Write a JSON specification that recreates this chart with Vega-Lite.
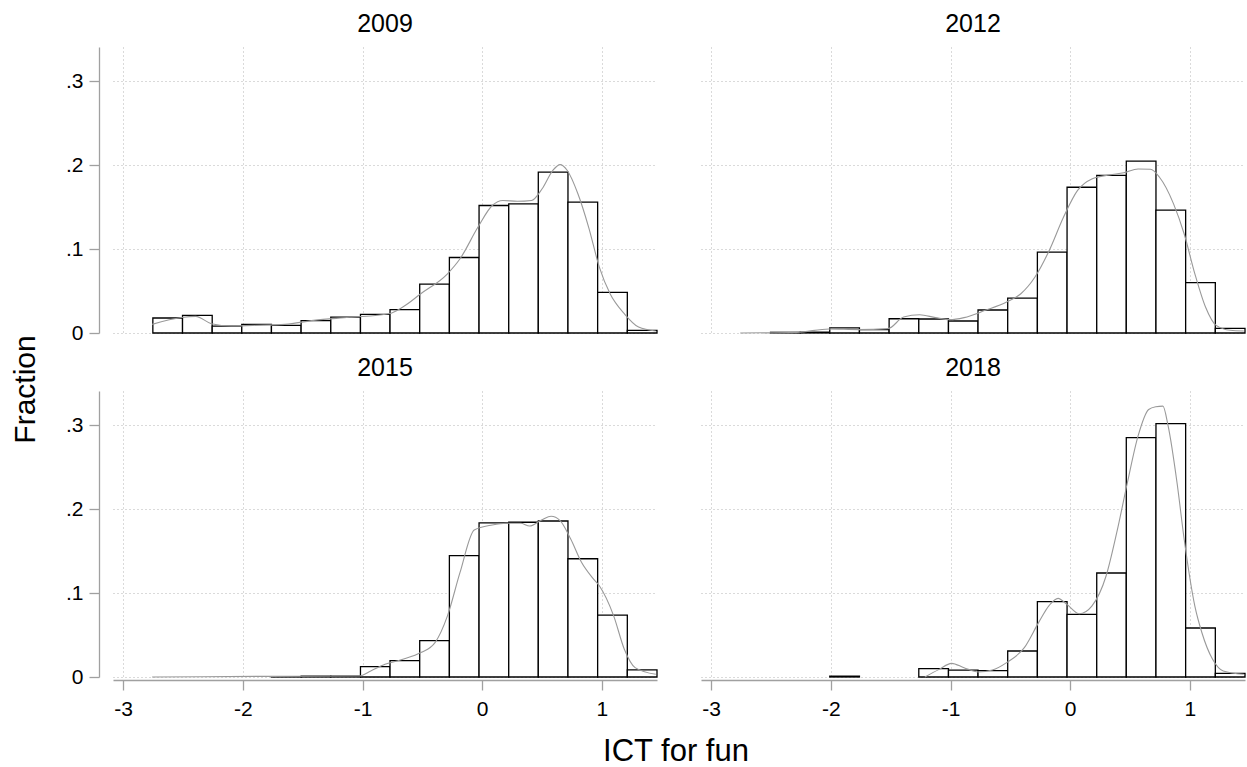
{
  "$schema": "https://vega.github.io/schema/vega-lite/v6.json",
  "padding": {"left": 11, "top": 12, "right": 0, "bottom": 0},
  "title": {"text": "Fraction", "orient": "left", "anchor": "middle", "fontSize": 30, "fontWeight": "normal", "font": "Liberation Sans", "color": "#000", "offset": 24},
  "data": {"values": [
    {"year": "2009", "t": "h", "x0": -2.752, "x1": -2.504, "f": 0.0179},
    {"year": "2009", "t": "h", "x0": -2.504, "x1": -2.256, "f": 0.021},
    {"year": "2009", "t": "h", "x0": -2.256, "x1": -2.009, "f": 0.0083},
    {"year": "2009", "t": "h", "x0": -2.009, "x1": -1.761, "f": 0.0103},
    {"year": "2009", "t": "h", "x0": -1.761, "x1": -1.513, "f": 0.0091},
    {"year": "2009", "t": "h", "x0": -1.513, "x1": -1.265, "f": 0.0147},
    {"year": "2009", "t": "h", "x0": -1.265, "x1": -1.017, "f": 0.019},
    {"year": "2009", "t": "h", "x0": -1.017, "x1": -0.770, "f": 0.0222},
    {"year": "2009", "t": "h", "x0": -0.770, "x1": -0.522, "f": 0.0278},
    {"year": "2009", "t": "h", "x0": -0.522, "x1": -0.274, "f": 0.0583},
    {"year": "2009", "t": "h", "x0": -0.274, "x1": -0.026, "f": 0.090},
    {"year": "2009", "t": "h", "x0": -0.026, "x1": 0.222, "f": 0.152},
    {"year": "2009", "t": "h", "x0": 0.222, "x1": 0.469, "f": 0.154},
    {"year": "2009", "t": "h", "x0": 0.469, "x1": 0.717, "f": 0.1917},
    {"year": "2009", "t": "h", "x0": 0.717, "x1": 0.965, "f": 0.156},
    {"year": "2009", "t": "h", "x0": 0.965, "x1": 1.213, "f": 0.0484},
    {"year": "2009", "t": "h", "x0": 1.213, "x1": 1.461, "f": 0.0032},

    {"year": "2012", "t": "h", "x0": -2.504, "x1": -2.256, "f": 0.0008},
    {"year": "2012", "t": "h", "x0": -2.256, "x1": -2.009, "f": 0.001},
    {"year": "2012", "t": "h", "x0": -2.009, "x1": -1.761, "f": 0.006},
    {"year": "2012", "t": "h", "x0": -1.761, "x1": -1.513, "f": 0.004},
    {"year": "2012", "t": "h", "x0": -1.513, "x1": -1.265, "f": 0.017},
    {"year": "2012", "t": "h", "x0": -1.265, "x1": -1.017, "f": 0.0167},
    {"year": "2012", "t": "h", "x0": -1.017, "x1": -0.770, "f": 0.0143},
    {"year": "2012", "t": "h", "x0": -0.770, "x1": -0.522, "f": 0.0274},
    {"year": "2012", "t": "h", "x0": -0.522, "x1": -0.274, "f": 0.0417},
    {"year": "2012", "t": "h", "x0": -0.274, "x1": -0.026, "f": 0.0964},
    {"year": "2012", "t": "h", "x0": -0.026, "x1": 0.222, "f": 0.1738},
    {"year": "2012", "t": "h", "x0": 0.222, "x1": 0.469, "f": 0.188},
    {"year": "2012", "t": "h", "x0": 0.469, "x1": 0.717, "f": 0.205},
    {"year": "2012", "t": "h", "x0": 0.717, "x1": 0.965, "f": 0.1464},
    {"year": "2012", "t": "h", "x0": 0.965, "x1": 1.213, "f": 0.060},
    {"year": "2012", "t": "h", "x0": 1.213, "x1": 1.461, "f": 0.0056},

    {"year": "2015", "t": "h", "x0": -1.761, "x1": -1.513, "f": 0.0004},
    {"year": "2015", "t": "h", "x0": -1.513, "x1": -1.265, "f": 0.001},
    {"year": "2015", "t": "h", "x0": -1.265, "x1": -1.017, "f": 0.001},
    {"year": "2015", "t": "h", "x0": -1.017, "x1": -0.770, "f": 0.0124},
    {"year": "2015", "t": "h", "x0": -0.770, "x1": -0.522, "f": 0.0195},
    {"year": "2015", "t": "h", "x0": -0.522, "x1": -0.274, "f": 0.0434},
    {"year": "2015", "t": "h", "x0": -0.274, "x1": -0.026, "f": 0.1446},
    {"year": "2015", "t": "h", "x0": -0.026, "x1": 0.222, "f": 0.1837},
    {"year": "2015", "t": "h", "x0": 0.222, "x1": 0.469, "f": 0.1845},
    {"year": "2015", "t": "h", "x0": 0.469, "x1": 0.717, "f": 0.186},
    {"year": "2015", "t": "h", "x0": 0.717, "x1": 0.965, "f": 0.141},
    {"year": "2015", "t": "h", "x0": 0.965, "x1": 1.213, "f": 0.0737},
    {"year": "2015", "t": "h", "x0": 1.213, "x1": 1.461, "f": 0.0084},

    {"year": "2018", "t": "h", "x0": -2.009, "x1": -1.761, "f": 0.001},
    {"year": "2018", "t": "h", "x0": -1.265, "x1": -1.017, "f": 0.0099},
    {"year": "2018", "t": "h", "x0": -1.017, "x1": -0.770, "f": 0.0083},
    {"year": "2018", "t": "h", "x0": -0.770, "x1": -0.522, "f": 0.0075},
    {"year": "2018", "t": "h", "x0": -0.522, "x1": -0.274, "f": 0.031},
    {"year": "2018", "t": "h", "x0": -0.274, "x1": -0.026, "f": 0.0898},
    {"year": "2018", "t": "h", "x0": -0.026, "x1": 0.222, "f": 0.0747},
    {"year": "2018", "t": "h", "x0": 0.222, "x1": 0.469, "f": 0.124},
    {"year": "2018", "t": "h", "x0": 0.469, "x1": 0.717, "f": 0.2853},
    {"year": "2018", "t": "h", "x0": 0.717, "x1": 0.965, "f": 0.302},
    {"year": "2018", "t": "h", "x0": 0.965, "x1": 1.213, "f": 0.0584},
    {"year": "2018", "t": "h", "x0": 1.213, "x1": 1.461, "f": 0.0044},

    {"year": "2009", "t": "d", "x": -2.758, "d": 0.0103},
    {"year": "2009", "t": "d", "x": -2.513, "d": 0.0185},
    {"year": "2009", "t": "d", "x": -2.394, "d": 0.0198},
    {"year": "2009", "t": "d", "x": -2.263, "d": 0.0111},
    {"year": "2009", "t": "d", "x": -2.096, "d": 0.0083},
    {"year": "2009", "t": "d", "x": -1.916, "d": 0.0091},
    {"year": "2009", "t": "d", "x": -1.648, "d": 0.0103},
    {"year": "2009", "t": "d", "x": -1.409, "d": 0.0151},
    {"year": "2009", "t": "d", "x": -1.110, "d": 0.0187},
    {"year": "2009", "t": "d", "x": -0.779, "d": 0.023},
    {"year": "2009", "t": "d", "x": -0.663, "d": 0.031},
    {"year": "2009", "t": "d", "x": -0.513, "d": 0.0468},
    {"year": "2009", "t": "d", "x": -0.290, "d": 0.0706},
    {"year": "2009", "t": "d", "x": -0.185, "d": 0.0885},
    {"year": "2009", "t": "d", "x": -0.036, "d": 0.126},
    {"year": "2009", "t": "d", "x": 0.084, "d": 0.152},
    {"year": "2009", "t": "d", "x": 0.173, "d": 0.158},
    {"year": "2009", "t": "d", "x": 0.293, "d": 0.157},
    {"year": "2009", "t": "d", "x": 0.412, "d": 0.158},
    {"year": "2009", "t": "d", "x": 0.501, "d": 0.172},
    {"year": "2009", "t": "d", "x": 0.591, "d": 0.194},
    {"year": "2009", "t": "d", "x": 0.651, "d": 0.2008},
    {"year": "2009", "t": "d", "x": 0.710, "d": 0.194},
    {"year": "2009", "t": "d", "x": 0.800, "d": 0.166},
    {"year": "2009", "t": "d", "x": 0.890, "d": 0.126},
    {"year": "2009", "t": "d", "x": 0.979, "d": 0.0786},
    {"year": "2009", "t": "d", "x": 1.069, "d": 0.0468},
    {"year": "2009", "t": "d", "x": 1.188, "d": 0.023},
    {"year": "2009", "t": "d", "x": 1.307, "d": 0.0071},
    {"year": "2009", "t": "d", "x": 1.451, "d": 0.0024},

    {"year": "2012", "t": "d", "x": -2.757, "d": 0.0},
    {"year": "2012", "t": "d", "x": -2.282, "d": 0.0008},
    {"year": "2012", "t": "d", "x": -2.015, "d": 0.0048},
    {"year": "2012", "t": "d", "x": -1.768, "d": 0.004},
    {"year": "2012", "t": "d", "x": -1.522, "d": 0.0052},
    {"year": "2012", "t": "d", "x": -1.392, "d": 0.019},
    {"year": "2012", "t": "d", "x": -1.258, "d": 0.0218},
    {"year": "2012", "t": "d", "x": -1.125, "d": 0.0183},
    {"year": "2012", "t": "d", "x": -1.006, "d": 0.0159},
    {"year": "2012", "t": "d", "x": -0.887, "d": 0.0183},
    {"year": "2012", "t": "d", "x": -0.709, "d": 0.027},
    {"year": "2012", "t": "d", "x": -0.531, "d": 0.0369},
    {"year": "2012", "t": "d", "x": -0.412, "d": 0.0468},
    {"year": "2012", "t": "d", "x": -0.294, "d": 0.0667},
    {"year": "2012", "t": "d", "x": -0.175, "d": 0.0984},
    {"year": "2012", "t": "d", "x": -0.056, "d": 0.138},
    {"year": "2012", "t": "d", "x": 0.062, "d": 0.170},
    {"year": "2012", "t": "d", "x": 0.181, "d": 0.1837},
    {"year": "2012", "t": "d", "x": 0.329, "d": 0.1885},
    {"year": "2012", "t": "d", "x": 0.448, "d": 0.191},
    {"year": "2012", "t": "d", "x": 0.567, "d": 0.1956},
    {"year": "2012", "t": "d", "x": 0.671, "d": 0.1952},
    {"year": "2012", "t": "d", "x": 0.745, "d": 0.186},
    {"year": "2012", "t": "d", "x": 0.864, "d": 0.154},
    {"year": "2012", "t": "d", "x": 0.953, "d": 0.118},
    {"year": "2012", "t": "d", "x": 1.042, "d": 0.0706},
    {"year": "2012", "t": "d", "x": 1.131, "d": 0.031},
    {"year": "2012", "t": "d", "x": 1.220, "d": 0.0091},
    {"year": "2012", "t": "d", "x": 1.338, "d": 0.0032},
    {"year": "2012", "t": "d", "x": 1.451, "d": 0.0024},

    {"year": "2015", "t": "d", "x": -2.758, "d": 0.0},
    {"year": "2015", "t": "d", "x": -1.767, "d": 0.0008},
    {"year": "2015", "t": "d", "x": -1.027, "d": 0.0012},
    {"year": "2015", "t": "d", "x": -0.931, "d": 0.0072},
    {"year": "2015", "t": "d", "x": -0.812, "d": 0.0151},
    {"year": "2015", "t": "d", "x": -0.663, "d": 0.0211},
    {"year": "2015", "t": "d", "x": -0.513, "d": 0.0291},
    {"year": "2015", "t": "d", "x": -0.394, "d": 0.041},
    {"year": "2015", "t": "d", "x": -0.290, "d": 0.0729},
    {"year": "2015", "t": "d", "x": -0.185, "d": 0.1247},
    {"year": "2015", "t": "d", "x": -0.066, "d": 0.1753},
    {"year": "2015", "t": "d", "x": 0.084, "d": 0.1813},
    {"year": "2015", "t": "d", "x": 0.203, "d": 0.1833},
    {"year": "2015", "t": "d", "x": 0.322, "d": 0.1833},
    {"year": "2015", "t": "d", "x": 0.397, "d": 0.180},
    {"year": "2015", "t": "d", "x": 0.501, "d": 0.1876},
    {"year": "2015", "t": "d", "x": 0.576, "d": 0.1916},
    {"year": "2015", "t": "d", "x": 0.651, "d": 0.1865},
    {"year": "2015", "t": "d", "x": 0.740, "d": 0.1645},
    {"year": "2015", "t": "d", "x": 0.830, "d": 0.1367},
    {"year": "2015", "t": "d", "x": 0.919, "d": 0.1187},
    {"year": "2015", "t": "d", "x": 0.979, "d": 0.1088},
    {"year": "2015", "t": "d", "x": 1.099, "d": 0.0729},
    {"year": "2015", "t": "d", "x": 1.188, "d": 0.0331},
    {"year": "2015", "t": "d", "x": 1.278, "d": 0.0112},
    {"year": "2015", "t": "d", "x": 1.451, "d": 0.0032},

    {"year": "2018", "t": "d", "x": -1.214, "d": 0.0},
    {"year": "2018", "t": "d", "x": -1.095, "d": 0.0091},
    {"year": "2018", "t": "d", "x": -0.991, "d": 0.0163},
    {"year": "2018", "t": "d", "x": -0.887, "d": 0.0111},
    {"year": "2018", "t": "d", "x": -0.769, "d": 0.006},
    {"year": "2018", "t": "d", "x": -0.650, "d": 0.0083},
    {"year": "2018", "t": "d", "x": -0.531, "d": 0.0171},
    {"year": "2018", "t": "d", "x": -0.383, "d": 0.035},
    {"year": "2018", "t": "d", "x": -0.264, "d": 0.0648},
    {"year": "2018", "t": "d", "x": -0.175, "d": 0.0854},
    {"year": "2018", "t": "d", "x": -0.101, "d": 0.0938},
    {"year": "2018", "t": "d", "x": -0.027, "d": 0.0866},
    {"year": "2018", "t": "d", "x": 0.077, "d": 0.0755},
    {"year": "2018", "t": "d", "x": 0.181, "d": 0.0846},
    {"year": "2018", "t": "d", "x": 0.300, "d": 0.1204},
    {"year": "2018", "t": "d", "x": 0.389, "d": 0.172},
    {"year": "2018", "t": "d", "x": 0.478, "d": 0.2316},
    {"year": "2018", "t": "d", "x": 0.567, "d": 0.2872},
    {"year": "2018", "t": "d", "x": 0.656, "d": 0.319},
    {"year": "2018", "t": "d", "x": 0.715, "d": 0.3222},
    {"year": "2018", "t": "d", "x": 0.775, "d": 0.323},
    {"year": "2018", "t": "d", "x": 0.819, "d": 0.299},
    {"year": "2018", "t": "d", "x": 0.893, "d": 0.2316},
    {"year": "2018", "t": "d", "x": 0.953, "d": 0.164},
    {"year": "2018", "t": "d", "x": 1.042, "d": 0.0846},
    {"year": "2018", "t": "d", "x": 1.101, "d": 0.0528},
    {"year": "2018", "t": "d", "x": 1.190, "d": 0.0211},
    {"year": "2018", "t": "d", "x": 1.279, "d": 0.0072},
    {"year": "2018", "t": "d", "x": 1.451, "d": 0.0032}
  ]},
  "facet": {
    "field": "year", "type": "nominal", "title": "ICT for fun",
    "header": {
      "labelFontSize": 25, "labelFont": "Liberation Sans", "labelColor": "#000", "labelPadding": 10,
      "titleOrient": "bottom", "titleFontSize": 31, "titleFont": "Liberation Sans", "titleFontWeight": "normal", "titleColor": "#000", "titlePadding": 18
    }
  },
  "columns": 2,
  "spacing": {"column": 35, "row": 20},
  "spec": {
    "width": 544,
    "height": 286,
    "layer": [
      {
        "transform": [{"filter": "datum.t == 'h'"}],
        "mark": {"type": "rect", "fill": "#ffffff", "stroke": "#000000", "strokeWidth": 1.3},
        "encoding": {
          "x": {"field": "x0", "type": "quantitative",
                "scale": {"domain": [-3.085, 1.461], "nice": false, "zero": false},
                "axis": {"values": [-3, -2, -1, 0, 1], "labelExpr": "datum.value + ''", "title": null, "labelPadding": 8}},
          "x2": {"field": "x1"},
          "y": {"field": "f", "type": "quantitative",
                "scale": {"domain": [0, 0.341], "nice": false},
                "axis": {"values": [0, 0.1, 0.2, 0.3], "labelExpr": "datum.value == 0 ? '0' : replace(format(datum.value, '.1f'), '0.', '.')", "title": null, "offset": 7, "labelPadding": 6}},
          "y2": {"datum": 0}
        }
      },
      {
        "transform": [{"filter": "datum.t == 'd'"}],
        "mark": {"type": "line", "color": "#999999", "strokeWidth": 1.1, "interpolate": "monotone"},
        "encoding": {
          "x": {"field": "x", "type": "quantitative"},
          "y": {"field": "d", "type": "quantitative"}
        }
      }
    ]
  },
  "config": {
    "font": "Liberation Sans",
    "view": {"stroke": null},
    "axis": {
      "grid": true, "gridColor": "#b4b4b4", "gridDash": [1, 3], "gridWidth": 1,
      "domainColor": "#a0a0a0", "domainWidth": 1.3, "tickColor": "#a0a0a0", "tickWidth": 1.3, "tickSize": 10,
      "labelFontSize": 21, "labelColor": "#000", "labelFont": "Liberation Sans"
    }
  }
}
